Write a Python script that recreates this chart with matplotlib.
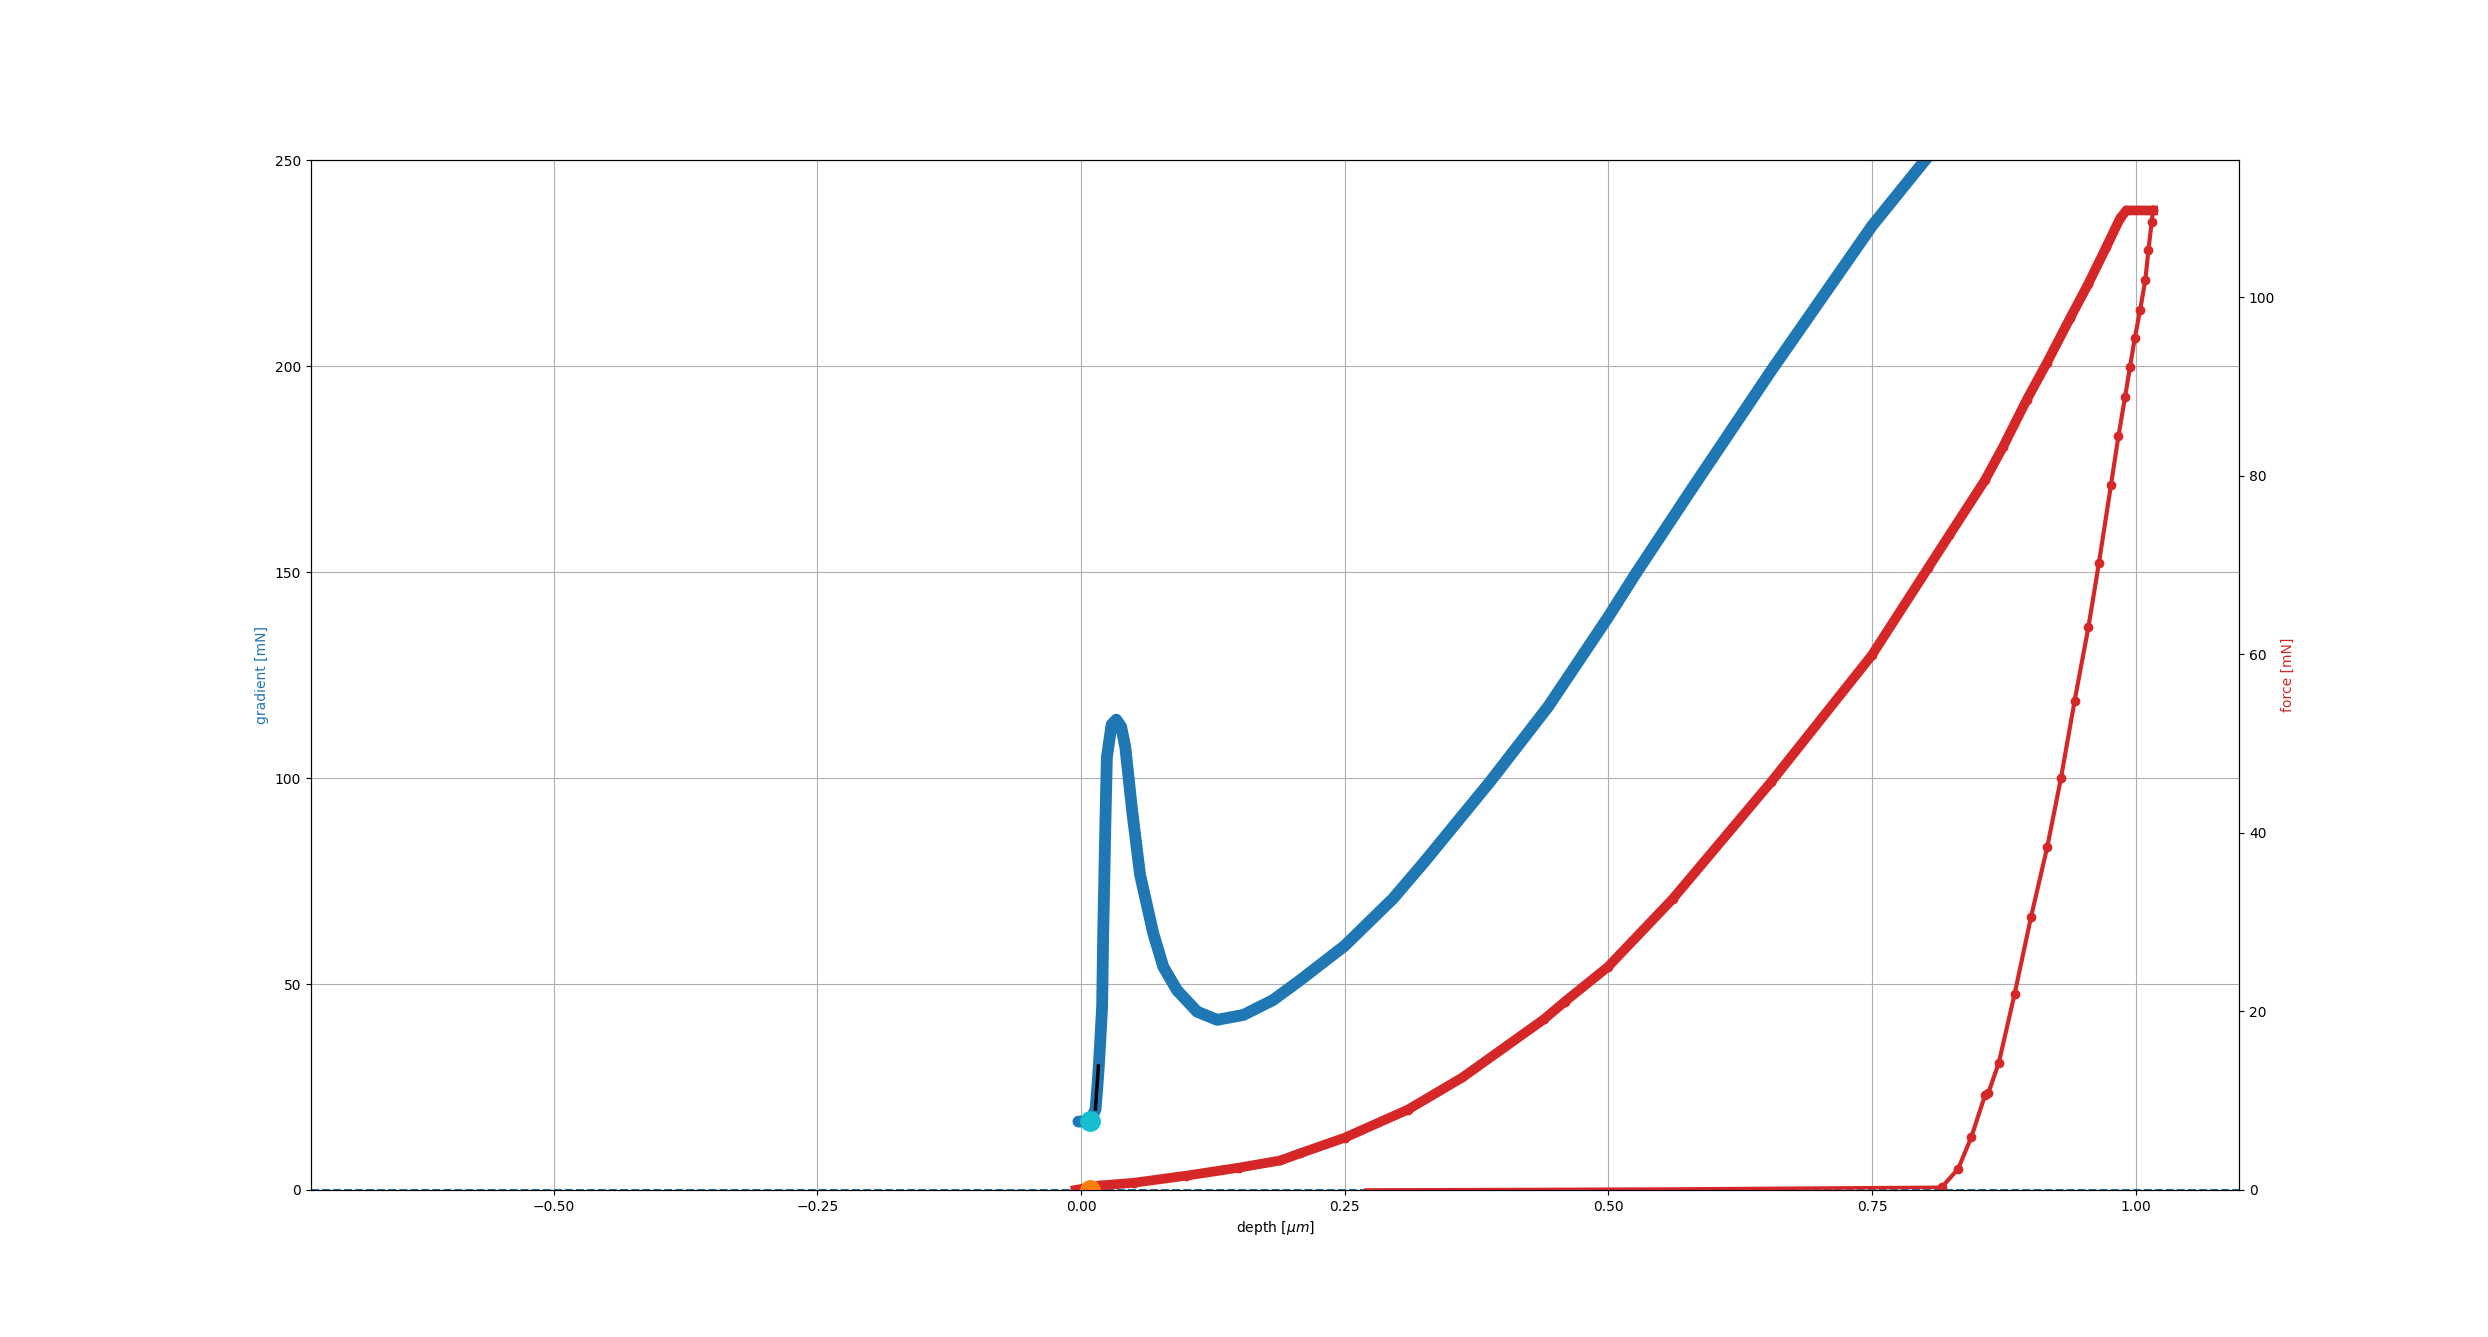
import matplotlib
matplotlib.use("Agg")
import matplotlib.pyplot as plt

# gradient of the loading curve [mN] vs depth [um]
grad_depth = [-0.0025, 0.0085, 0.0137, 0.0155, 0.017, 0.020, 0.021, 0.023, 0.0245,
              0.029, 0.0335, 0.038, 0.042, 0.0485, 0.056, 0.0622, 0.0685, 0.078, 0.091,
              0.110, 0.129, 0.154, 0.182, 0.2076, 0.25, 0.296, 0.3253,
              0.388, 0.443, 0.4995, 0.5255, 0.580, 0.655, 0.7496, 0.800, 0.85]
gradient = [16.6, 16.7, 19.5, 25.0, 30.5, 44.4, 61.7, 87.7, 105.0,
            113.0, 114.2, 112.5, 107.5, 92.0, 76.5, 69.5, 62.3, 54.2, 48.5,
            43.3, 41.3, 42.5, 46.1, 50.9, 59.3, 70.8, 79.6,
            99.2, 117.4, 139.0, 149.5, 170.6, 199.2, 234.0, 250.0, 266.0]

# force [mN] vs depth: loading branch
load_depth = [-0.005, 0.018, 0.05, 0.1, 0.15, 0.189, 0.2076, 0.25, 0.31, 0.3616,
              0.4387, 0.4588, 0.4997, 0.561, 0.6543, 0.7498, 0.8033,
              0.823, 0.857, 0.874, 0.8966, 0.9155, 0.9375, 0.955, 0.972,
              0.985, 0.991, 1.0164]
load_force = [0.0, 0.5, 0.8, 1.6, 2.5, 3.3, 4.1, 5.85, 9.0, 12.6,
              19.1, 21.1, 25.0, 32.6, 45.7, 59.9, 69.7,
              73.3, 79.5, 83.2, 88.5, 92.6, 97.6, 101.5, 105.6,
              108.8, 109.7, 109.7]

# unloading branch
unload_depth = [1.0164, 1.015, 1.012, 1.009, 1.004, 0.999, 0.9945, 0.9898, 0.9835,
                0.9765, 0.965, 0.955, 0.942, 0.929, 0.916, 0.9007, 0.885, 0.870,
                0.860, 0.857, 0.844, 0.8315, 0.816]
unload_force = [109.7, 108.4, 105.3, 101.9, 98.5, 95.4, 92.2, 88.8, 84.4,
                79.0, 70.2, 63.0, 54.8, 46.1, 38.4, 30.6, 21.9, 14.2,
                10.8, 10.6, 5.9, 2.35, 0.3]

# remaining tail after unloading
tail_depth = [0.816, 0.55, 0.27]
tail_force = [0.3, 0.1, 0.0]

# fitted slope at the surface
fit_depth = [0.0137, 0.0165]
fit_grad = [19.7, 30.1]

surface_depth = 0.0085
surface_grad = 16.7
surface_force = 0.0

fig, ax1 = plt.subplots(figsize=(24.88, 13.37), dpi=100)

ax1.plot(grad_depth, gradient, color='tab:blue', lw=8.5,
         solid_joinstyle='round', solid_capstyle='round')
ax1.plot(fit_depth, fit_grad, color='k', lw=2.5)
ax1.plot(surface_depth, surface_grad, 'o', color='tab:cyan', ms=14)
ax1.axhline(0, color='tab:blue', ls='--', lw=1.5)
ax1.set_xlim(-0.73, 1.098)
ax1.set_ylim(0, 250)
ax1.set_xlabel(r'depth [$\mu m$]')
ax1.set_ylabel('gradient [mN]', color='tab:blue')
ax1.grid(True)

ax2 = ax1.twinx()
ax2.plot(tail_depth, tail_force, color='tab:red', lw=2.5)
ax2.plot(load_depth, load_force, 'o-', color='tab:red', lw=7, ms=6,
         solid_joinstyle='round')
ax2.plot(unload_depth, unload_force, 'o-', color='tab:red', lw=3, ms=6)
ax2.plot(surface_depth, surface_force, 'o', color='tab:orange', ms=14)
ax2.set_ylim(0, 115.3)
ax2.set_ylabel('force [mN]', color='tab:red')

fig.savefig('out.png', dpi=100)
